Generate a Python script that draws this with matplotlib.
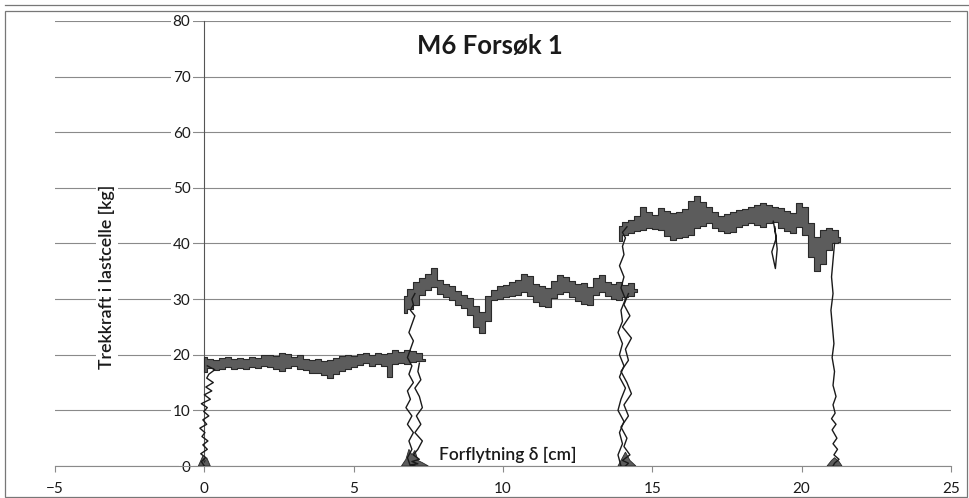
import matplotlib
matplotlib.use("Agg")
import matplotlib.pyplot as plt
from matplotlib.patches import Rectangle
from matplotlib.lines import Line2D

plt.rcParams['font.family'] = ['Lato', 'DejaVu Sans']

# ---- data: displacement [cm] vs. load-cell force [kg] ----
x_ticks = [-5, 0, 5, 10, 15, 20, 25]
y_ticks = [0, 10, 20, 30, 40, 50, 60, 70, 80]

# plateau 1 (dense jitter band)
p1_x = [0.0, 0.2, 0.4, 0.6, 0.8, 1.0, 1.2, 1.4, 1.6, 1.8,
        2.0, 2.2, 2.4, 2.6, 2.8, 3.0, 3.2, 3.4, 3.6, 3.8,
        4.0, 4.2, 4.4, 4.6, 4.8, 5.0, 5.2, 5.4, 5.6, 5.8,
        6.0, 6.2, 6.4, 6.6, 6.8, 7.0, 7.2, 7.4]
p1_hi = [19.6, 19.3, 19.0, 19.4, 19.6, 19.2, 19.5, 19.3, 19.6, 19.4,
         19.9, 20.0, 19.7, 20.4, 20.1, 19.6, 19.9, 19.3, 19.0, 19.2,
         18.9, 19.1, 19.4, 19.8, 20.0, 19.7, 20.1, 20.3, 19.9, 20.4,
         20.2, 20.3, 20.8, 20.5, 20.9, 20.7, 20.4, 19.3]
p1_lo = [16.9, 17.6, 17.3, 17.5, 17.8, 17.4, 17.7, 17.5, 17.8, 17.6,
         18.0, 17.8, 17.4, 17.0, 17.6, 17.9, 17.5, 17.2, 16.8, 16.7,
         16.4, 15.9, 16.5, 17.0, 17.4, 17.8, 18.2, 18.5, 18.0, 18.3,
         17.9, 16.0, 18.3, 18.6, 18.4, 18.7, 18.9, 18.8]

# plateau 2
p2_x = [6.7, 6.9, 7.1, 7.3, 7.5, 7.7, 7.9, 8.1, 8.3, 8.5,
        8.7, 8.9, 9.1, 9.3, 9.5, 9.7, 9.9, 10.1, 10.3, 10.5,
        10.7, 10.9, 11.1, 11.3, 11.5, 11.7, 11.9, 12.1, 12.3, 12.5,
        12.7, 12.9, 13.1, 13.3, 13.5, 13.7, 13.9, 14.1, 14.3, 14.5]
p2_hi = [30.5, 31.8, 33.1, 33.8, 34.6, 35.6, 33.5, 32.8, 32.3, 31.5,
         30.8, 30.2, 28.8, 27.6, 30.5, 31.6, 32.3, 32.6, 33.0, 33.4,
         34.6, 34.2, 32.8, 32.4, 32.0, 33.2, 34.4, 34.0, 33.3, 32.7,
         32.9, 32.1, 33.8, 34.3, 33.1, 32.8, 33.0, 32.6, 32.9, 31.8]
p2_lo = [27.5, 28.2, 29.0, 30.8, 31.6, 32.2, 31.0, 30.4, 29.8, 29.0,
         28.4, 27.2, 25.0, 23.9, 26.0, 29.8, 30.1, 30.4, 30.6, 30.8,
         31.2, 30.6, 29.4, 28.8, 28.6, 30.2, 31.0, 31.3, 30.4, 29.6,
         29.2, 28.9, 30.8, 31.2, 30.6, 30.0, 29.8, 30.4, 30.5, 31.2]

# plateau 3
p3_x = [13.9, 14.1, 14.3, 14.5, 14.7, 14.9, 15.1, 15.3, 15.5, 15.7,
        15.9, 16.1, 16.3, 16.5, 16.7, 16.9, 17.1, 17.3, 17.5, 17.7,
        17.9, 18.1, 18.3, 18.5, 18.7, 18.9, 19.1, 19.3, 19.5, 19.7,
        19.9, 20.1, 20.3, 20.5, 20.7, 20.9, 21.1, 21.3]
p3_hi = [43.2, 43.8, 44.2, 45.0, 46.6, 45.6, 45.2, 46.3, 45.8, 45.4,
         45.6, 46.2, 47.6, 48.6, 47.4, 46.5, 45.6, 45.0, 45.3, 45.6,
         46.0, 46.2, 46.6, 46.9, 47.3, 46.9, 46.5, 46.3, 45.8, 45.4,
         47.2, 46.6, 43.6, 41.2, 42.4, 42.8, 42.5, 41.2]
p3_lo = [40.5, 41.5, 41.8, 42.2, 42.4, 42.7, 42.6, 42.4, 41.4, 40.6,
         41.0, 41.2, 41.6, 42.7, 43.2, 43.6, 42.8, 42.3, 41.8, 42.0,
         43.0, 43.3, 43.6, 43.4, 43.0, 43.6, 43.9, 42.7, 42.2, 41.8,
         43.0, 41.5, 37.6, 35.0, 36.4, 38.8, 40.0, 40.3]

# loading / unloading traces
a_up_x = [0.00, -0.10, 0.05, -0.12, 0.10, -0.05, 0.12, -0.08, 0.02, -0.15,
          0.08, -0.05, 0.15, -0.02, 0.10, -0.10, 0.20, 0.00, 0.25, 0.05,
          0.30, 0.08, 0.15, 0.35, 0.10]
a_up_y = [0.0, 0.8, 1.5, 2.2, 3.0, 3.8, 4.5, 5.3, 6.0, 6.8,
          7.5, 8.3, 9.0, 9.8, 10.5, 11.2, 12.0, 12.8, 13.5, 14.2,
          15.0, 15.8, 16.5, 17.3, 18.0]

b_down_x = [7.20, 7.15, 7.25, 7.05, 7.20, 7.30, 7.10, 7.25, 7.05, 7.30,
            7.15, 7.00, 7.20, 6.95, 7.15, 6.90, 7.05]
b_down_y = [18.5, 17.0, 15.5, 14.0, 12.5, 10.5, 9.0, 7.5, 6.0, 4.5,
            3.0, 2.0, 1.2, 0.8, 0.4, 0.2, 0.0]
b_up_x = [6.90, 6.80, 6.95, 6.85, 7.00, 6.80, 6.95, 6.75, 6.90, 6.80,
          7.00, 6.85, 6.95, 6.80, 6.90, 7.00, 6.85, 6.95, 7.05, 6.90,
          7.00, 6.95, 7.05]
b_up_y = [0.0, 1.5, 3.0, 4.5, 6.0, 7.5, 9.0, 10.5, 12.0, 13.5,
          15.0, 16.5, 18.0, 19.5, 21.0, 22.5, 24.0, 25.5, 27.0, 28.0,
          29.0, 30.0, 31.0]

c_down_x = [14.20, 14.05, 14.25, 14.00, 14.30, 14.10, 14.20, 13.95, 14.15, 14.30,
            14.05, 14.20, 13.95, 14.15, 14.05, 14.25, 14.00, 14.20, 14.10]
c_down_y = [31.0, 29.0, 27.0, 25.0, 23.0, 21.0, 19.0, 17.0, 15.0, 13.0,
            11.0, 9.0, 7.0, 5.0, 3.5, 2.0, 1.0, 0.5, 0.0]
c_up_x = [13.95, 13.85, 14.00, 13.90, 14.05, 13.85, 13.95, 14.10, 13.90, 14.05,
          13.90, 14.00, 13.85, 14.00, 13.95, 14.10, 13.95, 14.05, 13.90, 14.05,
          14.00, 14.10, 14.00, 14.15]
c_up_y = [0.0, 2.0, 4.0, 6.0, 8.0, 10.0, 12.0, 14.0, 16.0, 18.0,
          20.0, 22.0, 24.0, 26.0, 28.0, 30.0, 32.0, 34.0, 36.0, 38.0,
          39.5, 41.0, 42.0, 43.0]

d_down_x = [21.10, 21.05, 21.00, 21.05, 20.98, 21.03, 21.08, 21.02, 21.10, 21.05,
            21.15, 21.05, 21.12, 21.00, 21.15, 21.02, 21.18, 21.05, 21.20, 21.08,
            21.25, 21.10, 21.05]
d_down_y = [40.0, 37.0, 34.0, 31.0, 28.0, 25.0, 22.0, 19.5, 17.0, 14.5,
            12.5, 11.0, 9.5, 8.5, 7.5, 6.5, 5.0, 4.0, 3.0, 2.0,
            1.2, 0.5, 0.0]

dip_x = [19.05, 19.15, 19.00, 19.12, 19.18, 19.10]
dip_y = [44.0, 41.0, 38.5, 35.5, 39.0, 43.0]

# small clusters of points resting on the zero line
foot_x = [[-0.20, -0.05, 0.00, 0.08, 0.20],
          [6.60, 6.75, 6.85, 6.95, 7.05, 7.15, 7.30, 7.50],
          [13.85, 14.00, 14.10, 14.25, 14.45],
          [20.85, 21.00, 21.10, 21.25, 21.35]]
foot_y = [[0.0, 1.8, 0.6, 1.5, 0.0],
          [0.0, 1.2, 3.0, 2.0, 2.8, 1.0, 0.6, 0.0],
          [0.0, 1.5, 2.5, 1.0, 0.0],
          [0.0, 1.0, 1.5, 0.8, 0.0]]

title = "M6 Forsøk 1"
x_label = "Forflytning δ [cm]"
y_label = "Trekkraft i lastcelle [kg]"

# ---- figure ----
W, H = 970, 498
fig = plt.figure(figsize=(W / 100, H / 100), dpi=100)
ax = fig.add_axes([55 / W, 32 / H, 896 / W, 445 / H])

ax.set_xlim(-5, 25)
ax.set_ylim(0, 80)
ax.set_xticks(x_ticks)
ax.set_yticks(y_ticks)

for s in ('top', 'right'):
    ax.spines[s].set_visible(False)
ax.spines['left'].set_position(('data', 0))
ax.spines['left'].set_color('#555555')
ax.spines['left'].set_linewidth(0.8)
ax.spines['bottom'].set_color('#8a8a8a')
ax.spines['bottom'].set_linewidth(0.8)

ax.yaxis.grid(True, color='#8a8a8a', linewidth=0.8)
ax.set_axisbelow(True)

ax.tick_params(axis='y', length=0, pad=10, labelsize=11, labelcolor='#1a1a1a')
ax.tick_params(axis='x', length=4, direction='out', color='#8a8a8a', pad=7.5,
               labelsize=11, labelcolor='#1a1a1a')
for lab in ax.get_yticklabels():
    lab.set_bbox(dict(facecolor='white', edgecolor='none', pad=1.5))

band_fc = '#5c5c5c'
band_ec = '#2a2a2a'
for bx, lo, hi in ((p1_x, p1_lo, p1_hi), (p2_x, p2_lo, p2_hi), (p3_x, p3_lo, p3_hi)):
    ax.fill_between(bx, lo, hi, step='mid', facecolor=band_fc,
                    edgecolor=band_ec, linewidth=0.8, zorder=3)

line_kw = dict(color='#1a1a1a', linewidth=1.0, zorder=4)
for tx, ty in ((a_up_x, a_up_y), (b_down_x, b_down_y), (b_up_x, b_up_y),
               (c_down_x, c_down_y), (c_up_x, c_up_y), (d_down_x, d_down_y),
               (dip_x, dip_y)):
    ax.plot(tx, ty, **line_kw)

for fx, fy in zip(foot_x, foot_y):
    ax.fill(fx, fy, facecolor=band_fc, edgecolor=band_ec, linewidth=0.6, zorder=3)

ax.text(9.55, 75.5, title, ha='center', va='center', fontsize=18.5,
        fontweight='bold', color='#1a1a1a')
ax.text(7.85, 2.0, x_label, ha='left', va='center', fontsize=12.5,
        fontweight='semibold', color='#1a1a1a', zorder=5)
ax.text(-3.25, 34.0, y_label, ha='center', va='center', rotation=90,
        fontsize=12.8, fontweight='semibold', color='#1a1a1a',
        bbox=dict(facecolor='white', edgecolor='none', pad=2))

# chart frame
fig.add_artist(Rectangle((5 / W, 1 / H), 962 / W, 486 / H, transform=fig.transFigure,
                         fill=False, edgecolor='#777777', linewidth=0.9))
fig.add_artist(Line2D([5 / W, 1.0], [1 - 5 / H, 1 - 5 / H], transform=fig.transFigure,
                      color='#777777', linewidth=0.9))

fig.savefig('out.png', dpi=100, facecolor='white')
